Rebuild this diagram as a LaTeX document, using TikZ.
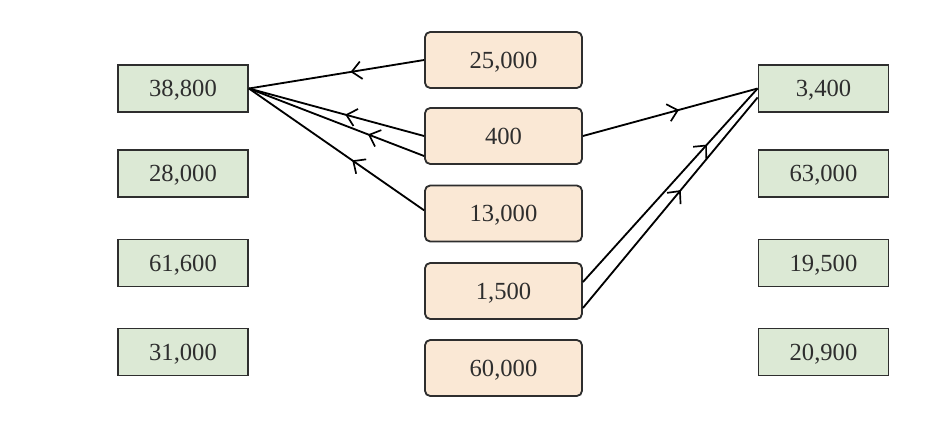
\documentclass[tikz,border=0pt]{standalone}
\usepackage{fontspec}
\setmainfont{Liberation Serif}
\usetikzlibrary{arrows.meta,decorations.markings}
\definecolor{verde}{HTML}{DCE9D5}
\definecolor{arancio}{HTML}{FAE8D5}
\definecolor{bordo}{HTML}{2E2E2E}
\begin{document}
\begin{tikzpicture}[line width=1.3pt, font=\fontsize{17.5}{20}\selectfont, text=bordo,
    sx/.style = {draw=bordo, fill=verde, minimum width=3.25cm, minimum height=1.175cm, inner sep=0pt, text depth=0pt},
    cx/.style = {draw=bordo, fill=arancio, rounded corners=1.3mm, minimum width=3.925cm, minimum height=1.4cm, inner sep=0pt, text depth=0pt},
    freccia/.style = {postaction={decorate}, decoration={markings,
        mark=at position #1 with {\arrow{Straight Barb[length=2.4mm, width=4.4mm, line width=1.2pt]}}}}]
    \useasboundingbox (0,0) rectangle (23.225,-10.5);
    % Disegna le colonne di caselle

    \node[sx] (l1) at (4.575,-2.2125) {38,800};
    \node[sx] (l2) at (4.575,-4.3375) {28,000};
    \node[sx] (l3) at (4.575,-6.575) {61,600};
    \node[sx] (l4) at (4.575,-8.8) {31,000};

    \node[cx] (m1) at (12.5875,-1.5) {25,000};
    \node[cx] (m2) at (12.5875,-3.4) {400};
    \node[cx] (m3) at (12.5875,-5.3375) {13,000};
    \node[cx] (m4) at (12.5875,-7.275) {1,500};
    \node[cx] (m5) at (12.5875,-9.2) {60,000};

    \node[sx] (r1) at (20.5875,-2.2125) {3,400};
    \node[sx] (r2) at (20.5875,-4.3375) {63,000};
    \node[sx] (r3) at (20.5875,-6.575) {19,500};
    \node[sx] (r4) at (20.5875,-8.8) {20,900};

    \draw[freccia=0.42] (m1.west) -- (l1.east);
    \draw[freccia=0.45] (m2.west) -- (l1.east);
    \draw[freccia=0.32] ([yshift=-0.5cm]m2.west) -- (l1.east);
    \draw[freccia=0.41] ([yshift=0.08cm]m3.west) -- (l1.east);

    \draw[freccia=0.55] (m2.east) -- (r1.west);
    \draw[freccia=0.71] ([yshift=0.225cm]m4.east) -- (r1.west);
    \draw[freccia=0.56] ([yshift=-0.425cm]m4.east) -- ([yshift=-0.225cm]r1.west);

\end{tikzpicture}
\end{document}
